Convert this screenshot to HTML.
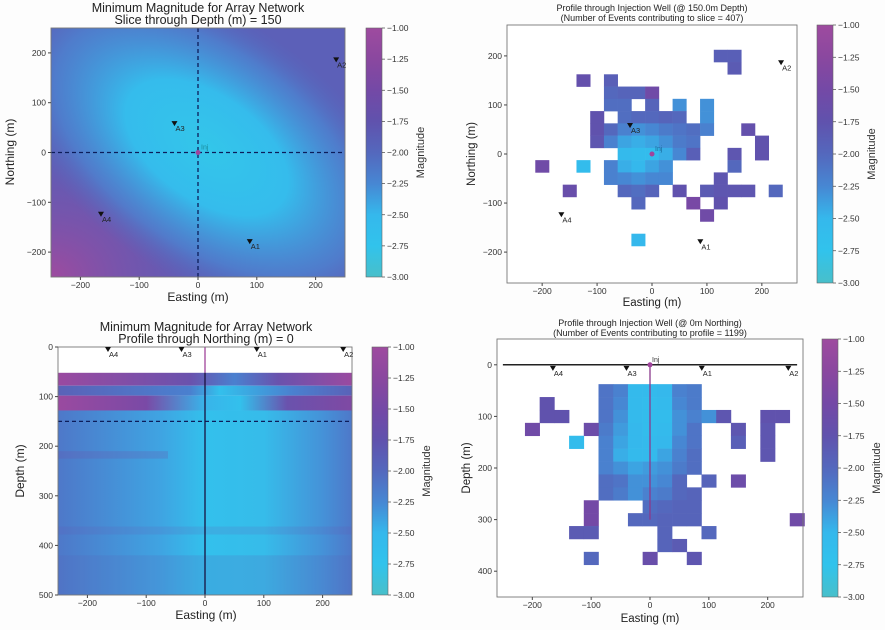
<!DOCTYPE html>
<html><head><meta charset="utf-8">
<style>
html,body{margin:0;padding:0;background:#fdfdfd;}
svg{display:block;font-family:"Liberation Sans",sans-serif;}
</style></head>
<body>
<svg id="fig" width="885" height="630" viewBox="0 0 885 630">
<defs>
 <clipPath id="tlclip"><rect x="51" y="28" width="294" height="249"/></clipPath>
 <filter id="blur3" x="-20%" y="-20%" width="140%" height="140%"><feGaussianBlur stdDeviation="3"/></filter>
 <linearGradient id="cbar" x1="0" y1="1" x2="0" y2="0">
  <stop offset="0" stop-color="#48bfca"/><stop offset="0.125" stop-color="#31c3ec"/>
  <stop offset="0.25" stop-color="#35b8ec"/><stop offset="0.375" stop-color="#4787d3"/>
  <stop offset="0.5" stop-color="#5468bd"/><stop offset="0.625" stop-color="#6052ad"/>
  <stop offset="0.75" stop-color="#7449a6"/><stop offset="0.875" stop-color="#8a489f"/>
  <stop offset="1" stop-color="#9e4b9f"/>
 </linearGradient>
 <radialGradient id="tlglow" cx="0.5" cy="0.5" r="0.5">
  <stop offset="0" stop-color="#33c6ea"/><stop offset="0.4" stop-color="#35bcec"/>
  <stop offset="0.75" stop-color="#4a88d4" stop-opacity="0.7"/><stop offset="1" stop-color="#5468bd" stop-opacity="0"/>
 </radialGradient>
 <radialGradient id="tlcorner" cx="0" cy="1" r="0.6">
  <stop offset="0" stop-color="#9e4b9f"/><stop offset="1" stop-color="#6a4fab" stop-opacity="0"/>
 </radialGradient>
 <linearGradient id="bandA" x1="0" x2="1"><stop offset="0" stop-color="#9a4aa0"/><stop offset="0.45" stop-color="#6a52ad"/><stop offset="0.6" stop-color="#4a80cf"/><stop offset="0.75" stop-color="#6a52ad"/><stop offset="1" stop-color="#9a4aa0"/></linearGradient>
 <linearGradient id="bandB" x1="0" x2="1"><stop offset="0" stop-color="#5a62b8"/><stop offset="0.45" stop-color="#4a80cf"/><stop offset="0.55" stop-color="#33c0ec"/><stop offset="0.8" stop-color="#4a80cf"/><stop offset="1" stop-color="#5a62b8"/></linearGradient>
 <linearGradient id="bandC" x1="0" x2="1"><stop offset="0" stop-color="#9a4aa0"/><stop offset="0.3" stop-color="#7a4aa6"/><stop offset="0.5" stop-color="#38b4ea"/><stop offset="0.62" stop-color="#33c0ec"/><stop offset="0.78" stop-color="#6a52ad"/><stop offset="1" stop-color="#7f49a3"/></linearGradient>
 <linearGradient id="bandD" x1="0" x2="1"><stop offset="0" stop-color="#4e78c9"/><stop offset="0.35" stop-color="#3fa4e2"/><stop offset="0.5" stop-color="#33c0ec"/><stop offset="0.7" stop-color="#36bcea"/><stop offset="0.9" stop-color="#4592d8"/><stop offset="1" stop-color="#4e78c9"/></linearGradient>
</defs>
</svg>
<script>
// ---- data ----
const cbTicks = [-1.00,-1.25,-1.50,-1.75,-2.00,-2.25,-2.50,-2.75,-3.00];
const stationNames = ["A1","A2","A3","A4"];
const stationE = [88,235,-40,-165];
const stationN = [-180,185,57,-125];
const tlTicks = [-200,-100,0,100,200];
const depthTicks = [0,100,200,300,400,500];
const brDepthTicks = [0,100,200,300,400];
// top-right slice cells
const trE = [-200,-125,-150,-125,-25,125,150,150,175,200,200,150,150,225,50,100,125,150,175,125,75,125,100,
 -75, -75,-50,-25,0, -75,-50,0,50,100, -100,-50,-25,0,25,50,100,
 -100,-75,-50,-25,0,25,50,75,100, -100,-75,-50,-25,0,25,50,75,
 -50,-25,0,25,50,75, -75,-50,-25,0,25, -75,-50,-25,0,25, -50,-25,0, -25];
const trN = [-25,150,-75,-25,-175,200,200,175,50,25,0,0,-25,-75,-75,-75,-75,-75,-75,-50,-100,-100,-125,
 150, 125,125,125,125, 100,100,100,100,100, 75,75,75,75,75,75,75,
 50,50,50,50,50,50,50,50,50, 25,25,25,25,25,25,25,25,
 0,0,0,0,0,0, -25,-25,-25,-25,-25, -50,-50,-50,-50,-50, -75,-75,-75, -100];
const trV = [-1.55,-1.7,-1.65,-2.6,-2.5,-1.9,-1.9,-1.85,-1.7,-1.75,-1.75,-1.8,-2.0,-2.0,-1.75,-1.85,-1.8,-1.8,-1.8,-1.8,-1.45,-1.75,-1.55,
 -1.9, -2.0,-1.95,-1.95,-1.55, -2.05,-2.05,-1.95,-2.3,-2.3, -1.75,-2.05,-2.0,-2.0,-1.95,-2.0,-2.3,
 -1.75,-2.0,-2.2,-2.3,-2.25,-2.15,-2.1,-2.05,-2.2, -1.8,-2.2,-2.4,-2.45,-2.4,-2.3,-2.15,-2.1,
 -2.55,-2.6,-2.6,-2.45,-2.25,-1.9, -2.2,-2.45,-2.5,-2.4,-2.3, -2.2,-2.25,-2.3,-2.25,-2.25, -2.0,-2.05,-1.95, -2.0];
// bottom-right profile: central block
const blockCols = [-75,-50,-25,0,25,50,75];
const blockRows = [50,75,100,125,150,175,200,225,250];
const blockVals = [
 [-2.1,-2.2,-2.55,-2.55,-2.5,-2.2,-2.15],
 [-2.1,-2.25,-2.55,-2.6,-2.55,-2.25,-2.15],
 [-2.1,-2.3,-2.55,-2.6,-2.6,-2.3,-2.2],
 [-2.15,-2.35,-2.5,-2.6,-2.55,-2.3,-2.1],
 [-2.2,-2.4,-2.5,-2.55,-2.5,-2.25,-2.1],
 [-2.2,-2.45,-2.55,-2.55,-2.4,-2.2,-2.05],
 [-2.2,-2.3,-2.4,-2.35,-2.3,-2.15,-2.05],
 [-2.05,-2.1,-2.3,-2.3,-2.25,-2.0,null],
 [-2.05,-2.15,-2.3,-2.2,-2.15,-2.0,-1.95]];
// bottom-right profile: scattered cells
const brE = [0,25,50,75,-100,-100,-25,0,25,50,75,250,-125,-100,25,100,25,50,-100,0,75,
 -175,-175,-150,-200,-100,-125,100,125,150,150,200,225,200,200,200,100,150];
const brD = [275,275,275,275,275,300,300,300,300,300,300,300,325,325,325,325,350,350,375,375,375,
 75,100,100,125,125,150,100,100,125,150,100,100,125,150,175,225,225];
const brV = [-2.05,-2.0,-1.95,-1.95,-1.5,-1.5,-2.0,-2.0,-1.95,-1.95,-1.95,-1.55,-1.85,-1.85,-1.95,-2.0,-1.95,-1.85,-2.0,-1.65,-1.8,
 -1.75,-1.75,-1.75,-1.55,-1.6,-2.6,-2.3,-1.8,-1.8,-1.9,-1.75,-1.75,-1.8,-1.8,-1.8,-1.95,-1.6];

// ---- helpers ----
const NS="http://www.w3.org/2000/svg";
const svg=document.getElementById('fig');
function mk(tag,attrs,parent){const e=document.createElementNS(NS,tag);for(const k in attrs)e.setAttribute(k,attrs[k]);(parent||svg).appendChild(e);return e;}
function txt(s,x,y,size,anchor,parent,extra){const t=mk('text',Object.assign({x:x,y:y,'font-size':size,'text-anchor':anchor||'middle',fill:'#333'},extra||{}),parent);t.textContent=s;return t;}
const cmStops=[[-3,[72,191,202]],[-2.75,[49,195,236]],[-2.5,[53,184,236]],[-2.25,[71,135,211]],[-2,[84,104,189]],[-1.75,[96,82,173]],[-1.5,[116,73,166]],[-1.25,[138,72,159]],[-1,[158,75,159]]];
function cmap(v){v=Math.max(-3,Math.min(-1,v));for(let i=0;i<cmStops.length-1;i++){const a=cmStops[i],b=cmStops[i+1];if(v<=b[0]){const t=(v-a[0])/(b[0]-a[0]);return 'rgb('+a[1].map((c,j)=>Math.round(c+(b[1][j]-c)*t)).join(',')+')';}}return 'rgb(158,75,159)';}
function lin(d0,d1,r0,r1){return v=>r0+(v-d0)/(d1-d0)*(r1-r0);}

function colorbar(x,y0,y1,name){
 const g=mk('g',{});
 
 
 mk('rect',{x:x,y:y0,width:16,height:y1-y0,fill:'url(#cbar)',stroke:'#666','stroke-width':0.6},g);
 const cy=lin(-3,-1,y1,y0);
 cbTicks.forEach(v=>{mk('line',{x1:x+16,x2:x+19,y1:cy(v),y2:cy(v),stroke:'#444','stroke-width':0.7},g);
  const t=txt('\u2212'+Math.abs(v).toFixed(2),x+21,cy(v)+3,8.5,'start',g);
  });
 const lab=txt('Magnitude',0,0,11,'middle',g,{transform:'translate('+(x+58)+','+((y0+y1)/2)+') rotate(-90)'});
 
}
function frame(x0,y0,x1,y1,g){mk('rect',{x:x0,y:y0,width:x1-x0,height:y1-y0,fill:'none',stroke:'#777','stroke-width':0.9},g);}
function station(x,y,name,g,col){
 const s=mk('g',{},g);
 
 
 mk('path',{d:'M'+(x-3)+','+(y-3)+' L'+(x+3)+','+(y-3)+' L'+x+','+(y+2)+'Z',fill:'#111'},s);
 txt(name,x+1,y+7,7.5,'start',s,{fill:col||'#222'});
}

// ===== Top-left =====
(function(){
 const g=mk('g',{});
 
 const X0=51,X1=345,Y0=28,Y1=277;
 const sx=lin(-250,250,X0,X1), sy=lin(-250,250,Y1,Y0);
 const c=mk('g',{'clip-path':'url(#tlclip)'},g);
 mk('rect',{x:X0,y:Y0,width:X1-X0,height:Y1-Y0,fill:'#5c60b8'},c);
 mk('rect',{x:X0,y:Y0,width:X1-X0,height:Y1-Y0,fill:'url(#tlcorner)'},c);
 mk('ellipse',{cx:sx(15),cy:sy(10),rx:230,ry:130,fill:'url(#tlglow)',transform:'rotate(35 '+sx(15)+' '+sy(10)+')'},c);
 mk('line',{x1:sx(0),x2:sx(0),y1:Y0,y2:Y1,stroke:'#0d1d5a','stroke-width':1.3,'stroke-dasharray':'4,3'},g);
 mk('line',{x1:X0,x2:X1,y1:sy(0),y2:sy(0),stroke:'#0d1d5a','stroke-width':1.3,'stroke-dasharray':'4,3'},g);
 frame(X0,Y0,X1,Y1,g);
 tlTicks.forEach(v=>{mk('line',{x1:sx(v),x2:sx(v),y1:Y1,y2:Y1+3,stroke:'#444'},g);txt(v<0?'\u2212'+(-v):String(v),sx(v),Y1+11,8.5,'middle',g);
  mk('line',{x1:X0-3,x2:X0,y1:sy(v),y2:sy(v),stroke:'#444'},g);txt(v<0?'\u2212'+(-v):String(v),X0-5,sy(v)+3,8.5,'end',g);});
 stationNames.forEach((n,i)=>station(sx(stationE[i]),sy(stationN[i]),n,g));
 mk('circle',{cx:sx(0),cy:sy(0),r:2.5,fill:'#a0449c'},g);
 txt('Inj',sx(0)+3,sy(0)-3,7,'start',g,{fill:'#1a8a9a'});
 txt('Minimum Magnitude for Array Network',198,12,12.5,'middle',g,{fill:'#222'});
 txt('Slice through Depth (m) = 150',198,24,12.5,'middle',g,{fill:'#222'});
 txt('Easting (m)',198,301,12,'middle',g,{fill:'#222'});
 txt('Northing (m)',0,0,12,'middle',g,{fill:'#222',transform:'translate(14,152) rotate(-90)'});
 colorbar(366,28,277,'depth-slice-colorbar');
})();

// ===== Top-right =====
(function(){
 const g=mk('g',{});
 
 const X0=507,X1=797,Y0=25,Y1=283;
 const sx=lin(-264,264,X0,X1), sy=lin(-263,263,Y1,Y0);
 mk('rect',{x:X0,y:Y0,width:X1-X0,height:Y1-Y0,fill:'#fff'},g);
 for(let i=0;i<trE.length;i++){
  const r=mk('rect',{x:sx(trE[i]-12.5),y:sy(trN[i]+12.5),width:sx(12.5)-sx(-12.5)+0.3,height:sy(-12.5)-sy(12.5)+0.3,fill:cmap(trV[i])},g);
  
  
 }
 frame(X0,Y0,X1,Y1,g);
 tlTicks.forEach(v=>{mk('line',{x1:sx(v),x2:sx(v),y1:Y1,y2:Y1+3,stroke:'#444'},g);txt(v<0?'\u2212'+(-v):String(v),sx(v),Y1+11,8.5,'middle',g);
  mk('line',{x1:X0-3,x2:X0,y1:sy(v),y2:sy(v),stroke:'#444'},g);txt(v<0?'\u2212'+(-v):String(v),X0-5,sy(v)+3,8.5,'end',g);});
 stationNames.forEach((n,i)=>station(sx(stationE[i]),sy(stationN[i]),n,g));
 mk('circle',{cx:sx(0),cy:sy(0),r:2.5,fill:'#a0449c'},g);
 txt('Inj',sx(0)+3,sy(0)-3,7,'start',g,{fill:'#1a6a9a'});
 txt('Profile through Injection Well (@ 150.0m Depth)',652,11,9,'middle',g,{fill:'#222'});
 txt('(Number of Events contributing to slice = 407)',652,21,9,'middle',g,{fill:'#222'});
 txt('Easting (m)',652,306,11.5,'middle',g,{fill:'#222'});
 txt('Northing (m)',0,0,11.5,'middle',g,{fill:'#222',transform:'translate(475,154) rotate(-90)'});
 colorbar(817,25,283,'event-slice-colorbar');
})();

// ===== Bottom-left =====
(function(){
 const g=mk('g',{});
 
 const X0=58,X1=352,Y0=347,Y1=595;
 const sx=lin(-250,250,X0,X1), sy=lin(0,500,Y0,Y1);
 mk('rect',{x:X0,y:Y0,width:X1-X0,height:Y1-Y0,fill:'#fff'},g);
 mk('rect',{x:X0,y:sy(52),width:X1-X0,height:sy(78)-sy(52),fill:'url(#bandA)'},g);
 mk('rect',{x:X0,y:sy(78),width:X1-X0,height:sy(98)-sy(78),fill:'url(#bandB)'},g);
 mk('rect',{x:X0,y:sy(98),width:X1-X0,height:sy(128)-sy(98),fill:'url(#bandC)'},g);
 mk('rect',{x:X0,y:sy(128),width:X1-X0,height:sy(500)-sy(128),fill:'url(#bandD)'},g);
 mk('rect',{x:X0,y:sy(210),width:110,height:sy(225)-sy(210),fill:'#6a52ad',opacity:0.25},g);
 mk('rect',{x:X0,y:sy(362),width:X1-X0,height:sy(378)-sy(362),fill:'#6a52ad',opacity:0.15},g);
 mk('rect',{x:X0,y:sy(420),width:X1-X0,height:sy(500)-sy(420),fill:'#5a62b8',opacity:0.2},g);
 mk('line',{x1:X0,x2:X1,y1:sy(150),y2:sy(150),stroke:'#0d1d5a','stroke-width':1.3,'stroke-dasharray':'4,3'},g);
 mk('line',{x1:sx(0),x2:sx(0),y1:Y0,y2:sy(52),stroke:'#a0449c','stroke-width':1.3},g);
 mk('line',{x1:sx(0),x2:sx(0),y1:sy(52),y2:Y1,stroke:'#1a1240','stroke-width':1.3},g);
 frame(X0,Y0,X1,Y1,g);
 tlTicks.forEach(v=>{mk('line',{x1:sx(v),x2:sx(v),y1:Y1,y2:Y1+3,stroke:'#444'},g);txt(v<0?'\u2212'+(-v):String(v),sx(v),Y1+11,8.5,'middle',g);});
 depthTicks.forEach(v=>{mk('line',{x1:X0-3,x2:X0,y1:sy(v),y2:sy(v),stroke:'#444'},g);txt(String(v),X0-5,sy(v)+3,8.5,'end',g);});
 stationNames.forEach((n,i)=>station(sx(stationE[i]),sy(6),n,g));
 txt('Minimum Magnitude for Array Network',206,331,12.5,'middle',g,{fill:'#222'});
 txt('Profile through Northing (m) = 0',206,343,12.5,'middle',g,{fill:'#222'});
 txt('Easting (m)',206,619,12,'middle',g,{fill:'#222'});
 txt('Depth (m)',0,0,12,'middle',g,{fill:'#222',transform:'translate(24,471) rotate(-90)'});
 colorbar(372,347,595,'depth-profile-colorbar');
})();

// ===== Bottom-right =====
(function(){
 const g=mk('g',{});
 
 const X0=497,X1=803,Y0=339,Y1=597;
 const sx=lin(-260,260,X0,X1), sy=lin(-50,450,Y0,Y1);
 mk('rect',{x:X0,y:Y0,width:X1-X0,height:Y1-Y0,fill:'#fff'},g);
 function cell(e,d,v){
  const r=mk('rect',{x:sx(e-12.5),y:sy(d-12.5),width:sx(12.5)-sx(-12.5)+0.3,height:sy(12.5)-sy(-12.5)+0.3,fill:cmap(v)},g);
  
  
 }
 blockRows.forEach((d,ri)=>blockCols.forEach((e,ci)=>{const v=blockVals[ri][ci];if(v!==null)cell(e,d,v);}));
 for(let i=0;i<brE.length;i++)cell(brE[i],brD[i],brV[i]);
 mk('line',{x1:sx(-250),x2:sx(250),y1:sy(0),y2:sy(0),stroke:'#222','stroke-width':1.5},g);
 mk('line',{x1:sx(0),x2:sx(0),y1:sy(0),y2:sy(300),stroke:'#8a3a8c','stroke-width':1.3},g);
 frame(X0,Y0,X1,Y1,g);
 tlTicks.forEach(v=>{mk('line',{x1:sx(v),x2:sx(v),y1:Y1,y2:Y1+3,stroke:'#444'},g);txt(v<0?'\u2212'+(-v):String(v),sx(v),Y1+11,8.5,'middle',g);});
 brDepthTicks.forEach(v=>{mk('line',{x1:X0-3,x2:X0,y1:sy(v),y2:sy(v),stroke:'#444'},g);txt(String(v),X0-5,sy(v)+3,8.5,'end',g);});
 stationNames.forEach((n,i)=>station(sx(stationE[i]),sy(8),n,g));
 mk('circle',{cx:sx(0),cy:sy(0),r:2.5,fill:'#a0449c'},g);
 txt('Inj',sx(0)+2,sy(0)-3,7,'start',g);
 txt('Profile through Injection Well (@ 0m Northing)',650,326,9,'middle',g,{fill:'#222'});
 txt('(Number of Events contributing to profile = 1199)',650,336,9,'middle',g,{fill:'#222'});
 txt('Easting (m)',650,622,11.5,'middle',g,{fill:'#222'});
 txt('Depth (m)',0,0,11.5,'middle',g,{fill:'#222',transform:'translate(470,468) rotate(-90)'});
 colorbar(822,339,597,'event-profile-colorbar');
})();
</script>
</body></html>
